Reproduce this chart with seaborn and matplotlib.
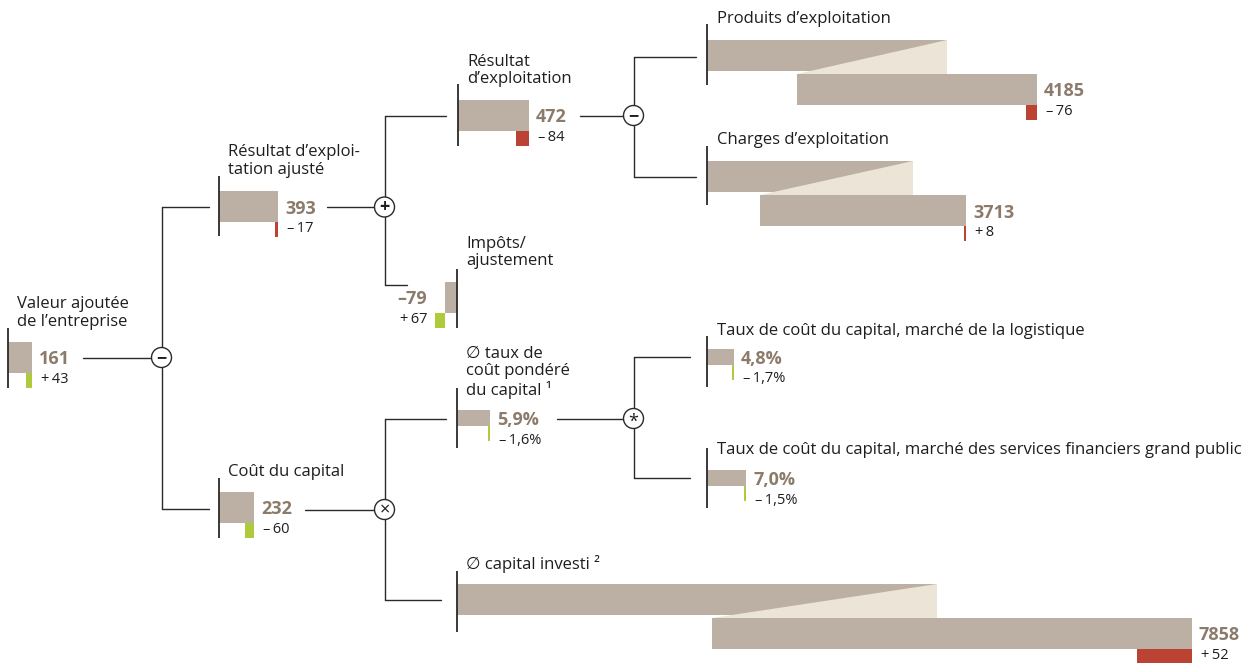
import matplotlib
matplotlib.use("Agg")
import matplotlib.pyplot as plt
from matplotlib.patches import Circle, Polygon
import seaborn as sns

# ------------------------------------------------------------------ data
node_labels = [
    "Valeur ajoutée\nde l’entreprise",
    "Résultat d’exploi-\ntation ajusté",
    "Résultat\nd’exploitation",
    "Impôts/\najustement",
    "Produits d’exploitation",
    "Charges d’exploitation",
    "Coût du capital",
    "∅ taux de\ncoût pondéré\ndu capital ¹",
    "Taux de coût du capital, marché de la logistique",
    "Taux de coût du capital, marché des services financiers grand public",
    "∅ capital investi ²",
]
node_values = [161, 393, 472, -79, 4185, 3713, 232, 5.9, 4.8, 7.0, 7858]
node_deltas = [43, -17, -84, 67, -76, 8, -60, -1.6, -1.7, -1.5, 52]
node_units = ["eur", "eur", "eur", "eur", "eur", "eur", "eur", "pct", "pct", "pct", "eur"]
delta_favourable = [True, False, False, True, False, False, True, True, True, True, False]
operator_symbols = ["−", "+", "−", "×", "*"]
operator_parent = [0, 1, 2, 6, 7]
operator_children = [(1, 6), (2, 3), (4, 5), (7, 10), (8, 9)]

# ------------------------------------------------------------------ layout (pixels)
SCALE = {"eur": 0.15, "pct": 5.6}          # px per unit
DELTA_SCALE = {10: 55 / 52}                 # capital investi change drawn wider
MIN_DELTA_W = 2.0

layout = {
    0: dict(x0=8, yc=357.5, h=31, axis=(328, 388), lab=(17, 313), out=83),
    1: dict(x0=219, yc=206.5, h=31, axis=(176, 236), lab=(228, 161), out=327, inx=209, iny=206.5),
    2: dict(x0=458, yc=115.5, h=31, axis=(84, 146), lab=(467, 70.5), out=580, inx=446, iny=115.5),
    3: dict(x0=457, yc=297.5, h=31, axis=(269, 328), lab=(466, 252.5), inx=407, iny=284.5),
    4: dict(x0=707, yc=55.5, h=31, axis=(24, 85), lab=(717, 19), inx=696, iny=57, seg=240, gap=297.5),
    5: dict(x0=707, yc=176.5, h=31, axis=(146, 205), lab=(717, 140), inx=696, iny=177, seg=206, gap=297.5),
    6: dict(x0=219, yc=507.5, h=31, axis=(478, 538), lab=(228, 472), out=305, inx=209, iny=508.5),
    7: dict(x0=457, yc=418, h=16, axis=(388, 448), lab=(466, 372), out=557, inx=446, iny=418.5),
    8: dict(x0=707, yc=357, h=16, axis=(336, 387), lab=(717, 331), inx=690, iny=357),
    9: dict(x0=707, yc=478, h=16, axis=(448, 508), lab=(717, 450), inx=690, iny=478),
    10: dict(x0=457, yc=599.5, h=31, axis=(571, 632), lab=(466, 564), inx=441, iny=600, seg=480, gap=444),
}
op_pos = [(161.5, 357.5), (384.5, 207), (633.5, 115.5), (384.5, 509.5), (633.5, 418.5)]
op_text_dy = {"−": 0.5, "+": 0.5, "×": 0.5, "*": 3.0}
OP_R = 10

C_BAR = "#BCB0A4"
C_LIGHT = "#ECE4D7"
C_RED = "#BB4333"
C_GREEN = "#B0CA3E"
C_VAL = "#8C7B6B"
C_TXT = "#1E1E1E"
C_LINE = "#2A2A2A"

sns.set_theme(style="white")
plt.rcParams["font.family"] = ["Open Sans", "DejaVu Sans"]

fig = plt.figure(figsize=(12.6, 6.63), dpi=100)
ax = fig.add_axes([0, 0, 1, 1])
ax.set_xlim(0, 1260)
ax.set_ylim(663, 0)
ax.set_axis_off()


def fmt_value(v, unit):
    if unit == "pct":
        return f"{v:.1f}".replace(".", ",") + "%"
    return ("–" if v < 0 else "") + f"{abs(v):.0f}"


def fmt_delta(d, unit):
    sign = "+" if d > 0 else "–"
    if unit == "pct":
        return sign + "\u2009" + f"{abs(d):.1f}".replace(".", ",") + "%"
    return sign + "\u2009" + f"{abs(d):.0f}"


for i, (lab, v, d, unit, good) in enumerate(zip(node_labels, node_values, node_deltas,
                                                 node_units, delta_favourable)):
    L = layout[i]
    s = SCALE[unit]
    x0, yc, h = L["x0"], L["yc"], L["h"]
    # node axis
    ax.plot([x0, x0], L["axis"], color=C_LINE, lw=1.3, solid_capstyle="butt", zorder=4)
    # label
    ax.text(L["lab"][0], L["lab"][1], lab, fontsize=12, color=C_TXT, ha="left",
            va="center", linespacing=1.12)
    if "seg" in L:
        seg = L["seg"]
        end = x0 + v * s - L["gap"]
        top_top, top_bot = yc - h / 2, yc + h / 2
        low_top = top_bot + 3
        ax.barh(yc, seg, left=x0, height=h, color=C_BAR, linewidth=0, zorder=2)
        ax.add_patch(Polygon([(x0 + seg, top_top), (x0 + seg, low_top), (end - seg, low_top)],
                             closed=True, facecolor=C_LIGHT, edgecolor="none", zorder=2))
        ax.barh(low_top + h / 2, seg, left=end - seg, height=h, color=C_BAR, linewidth=0, zorder=3)
        yfin = low_top + h / 2
    else:
        ax.barh(yc, v * s, left=x0, height=h, color=C_BAR, linewidth=0, zorder=2)
        end = x0 + v * s
        yfin = yc
    # change bar
    ds = DELTA_SCALE.get(i, s)
    dw = abs(d) * ds if unit == "eur" else abs(v) * abs(d) / 100 * s
    dw = max(dw, MIN_DELTA_W)
    ax.barh(yfin + h / 2 + 7.5, dw, left=end - dw, height=15, linewidth=0,
            color=C_GREEN if good else C_RED, zorder=3)
    # value texts
    if v >= 0:
        tx, ha = end + 7, "left"
        dx = end + 9
    else:
        tx, ha = end - dw - 8, "right"
        dx = tx
    ax.text(tx, yfin + 2, fmt_value(v, unit), fontsize=13, fontweight="bold",
            color=C_VAL, ha=ha, va="center")
    ax.text(dx, yfin + 22, fmt_delta(d, unit), fontsize=10.5, color=C_TXT, ha=ha, va="center")

# operators and connectors
for k, (sym, par, ch) in enumerate(zip(operator_symbols, operator_parent, operator_children)):
    ox, oy = op_pos[k]
    ax.plot([layout[par]["out"], ox - OP_R], [oy, oy], color=C_LINE, lw=1.0, zorder=1)
    ys = [layout[c]["iny"] for c in ch]
    ax.plot([ox, ox], [min(ys), max(ys)], color=C_LINE, lw=1.0, zorder=1)
    for c in ch:
        ax.plot([ox, layout[c]["inx"]], [layout[c]["iny"]] * 2, color=C_LINE, lw=1.0, zorder=1)
    ax.add_patch(Circle((ox, oy), OP_R, facecolor="white", edgecolor=C_LINE, lw=1.0, zorder=5))
    ax.text(ox, oy + op_text_dy[sym], sym, fontsize=13,
            fontweight="bold" if sym in "−+" else "normal",
            color=C_TXT, ha="center", va="center", zorder=6)

fig.savefig("out.png", dpi=100)
